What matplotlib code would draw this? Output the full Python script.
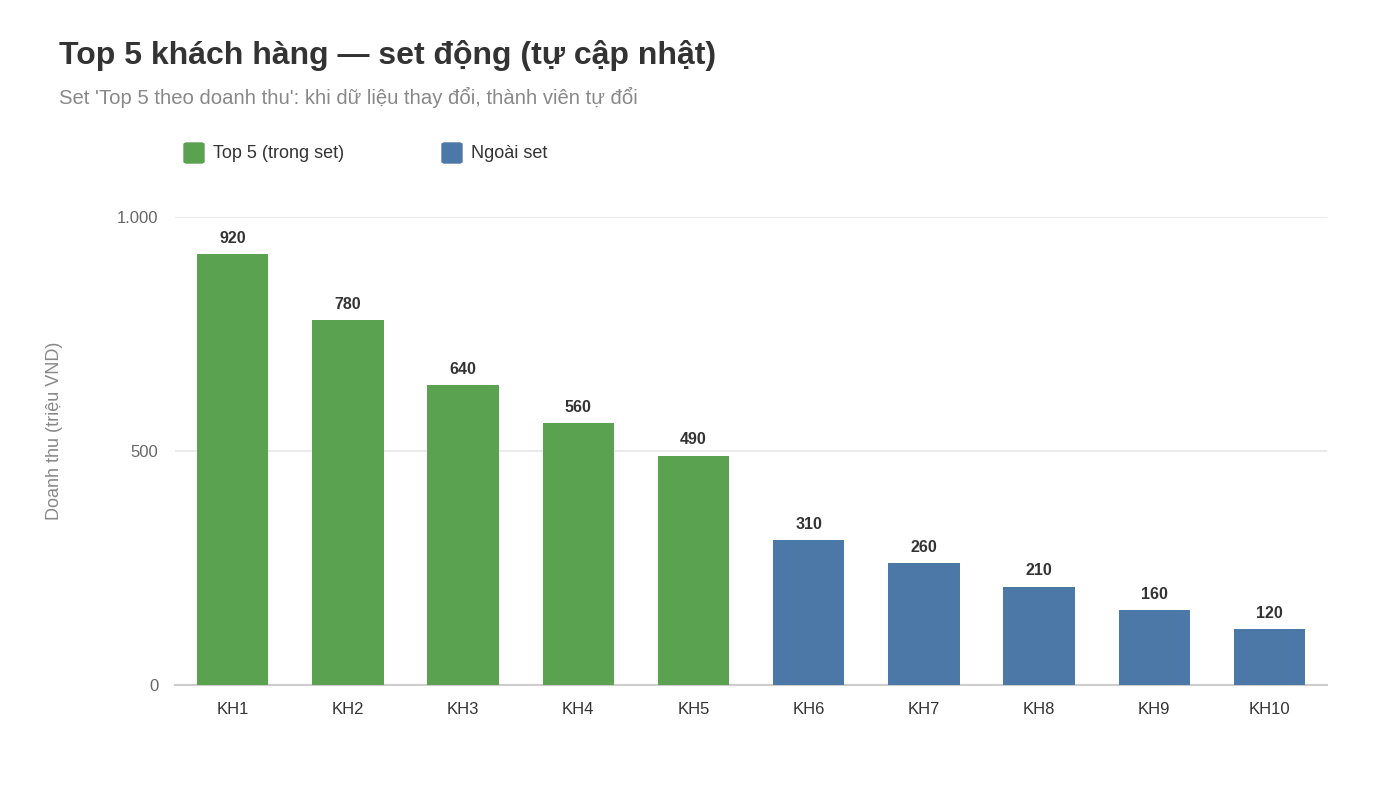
import matplotlib.pyplot as plt
from matplotlib.patches import FancyBboxPatch
from matplotlib.ticker import FixedLocator

plt.rcParams['font.family'] = ['Liberation Sans', 'DejaVu Sans']

customers = ['KH1', 'KH2', 'KH3', 'KH4', 'KH5', 'KH6', 'KH7', 'KH8', 'KH9', 'KH10']
revenue = [920, 780, 640, 560, 490, 310, 260, 210, 160, 120]
in_set = [True, True, True, True, True, False, False, False, False, False]
yticks = [0, 500, 1000]
ytick_labels = ['0', '500', '1.000']

green = '#5aa150'
blue = '#4c78a8'
colors = [green if s else blue for s in in_set]

fig = plt.figure(figsize=(14, 7.87), dpi=100)
ax = fig.add_axes([0.125, 0.1296, 0.823, 0.5947])

x = range(len(customers))
bars = ax.bar(x, revenue, width=0.62, color=colors, zorder=3)
for xi, v in zip(x, revenue):
    ax.annotate(str(v), (xi, v), xytext=(0, 6), textcoords='offset points',
                ha='center', va='bottom', fontsize=11.5, fontweight='bold', color='#333333')

ax.set_xlim(-0.5, len(customers) - 0.5)
ax.set_ylim(0, 1000)
ax.yaxis.set_major_locator(FixedLocator(yticks))
ax.set_yticklabels(ytick_labels)
ax.set_xticks(list(x))
ax.set_xticklabels(customers)
ax.tick_params(axis='both', length=0, labelsize=12, colors='#333333')
ax.tick_params(axis='y', colors='#666666', pad=12)
ax.tick_params(axis='x', pad=12)
ax.grid(axis='y', color='#e6e6e6', linewidth=1.2, zorder=0)
for s in ['top', 'right', 'left']:
    ax.spines[s].set_visible(False)
ax.spines['bottom'].set_color('#cccccc')
ax.spines['bottom'].set_linewidth(1.5)
ax.set_ylabel('Doanh thu (triệu VND)', fontsize=13, color='#888888')
ax.yaxis.set_label_coords(-0.097, 0.543)

fig.text(0.042, 0.93, 'Top 5 khách hàng — set động (tự cập nhật)', fontsize=23,
         fontweight='bold', color='#333333', va='center')
fig.text(0.042, 0.876, "Set 'Top 5 theo doanh thu': khi dữ liệu thay đổi, thành viên tự đổi",
         fontsize=14.6, color='#888888', va='center')

# legend
legend_items = [('Top 5 (trong set)', green, 184), ('Ngoài set', blue, 442)]
for label, c, px in legend_items:
    fig.patches.append(FancyBboxPatch((px / 1400, 1 - 163 / 787), 20 / 1400, 20 / 787,
                                      boxstyle='round,pad=0,rounding_size=0.002',
                                      transform=fig.transFigure, color=c))
    fig.text((px + 29) / 1400, 1 - 154 / 787, label, fontsize=13, color='#333333', va='center')

fig.savefig('out.png', dpi=100)
